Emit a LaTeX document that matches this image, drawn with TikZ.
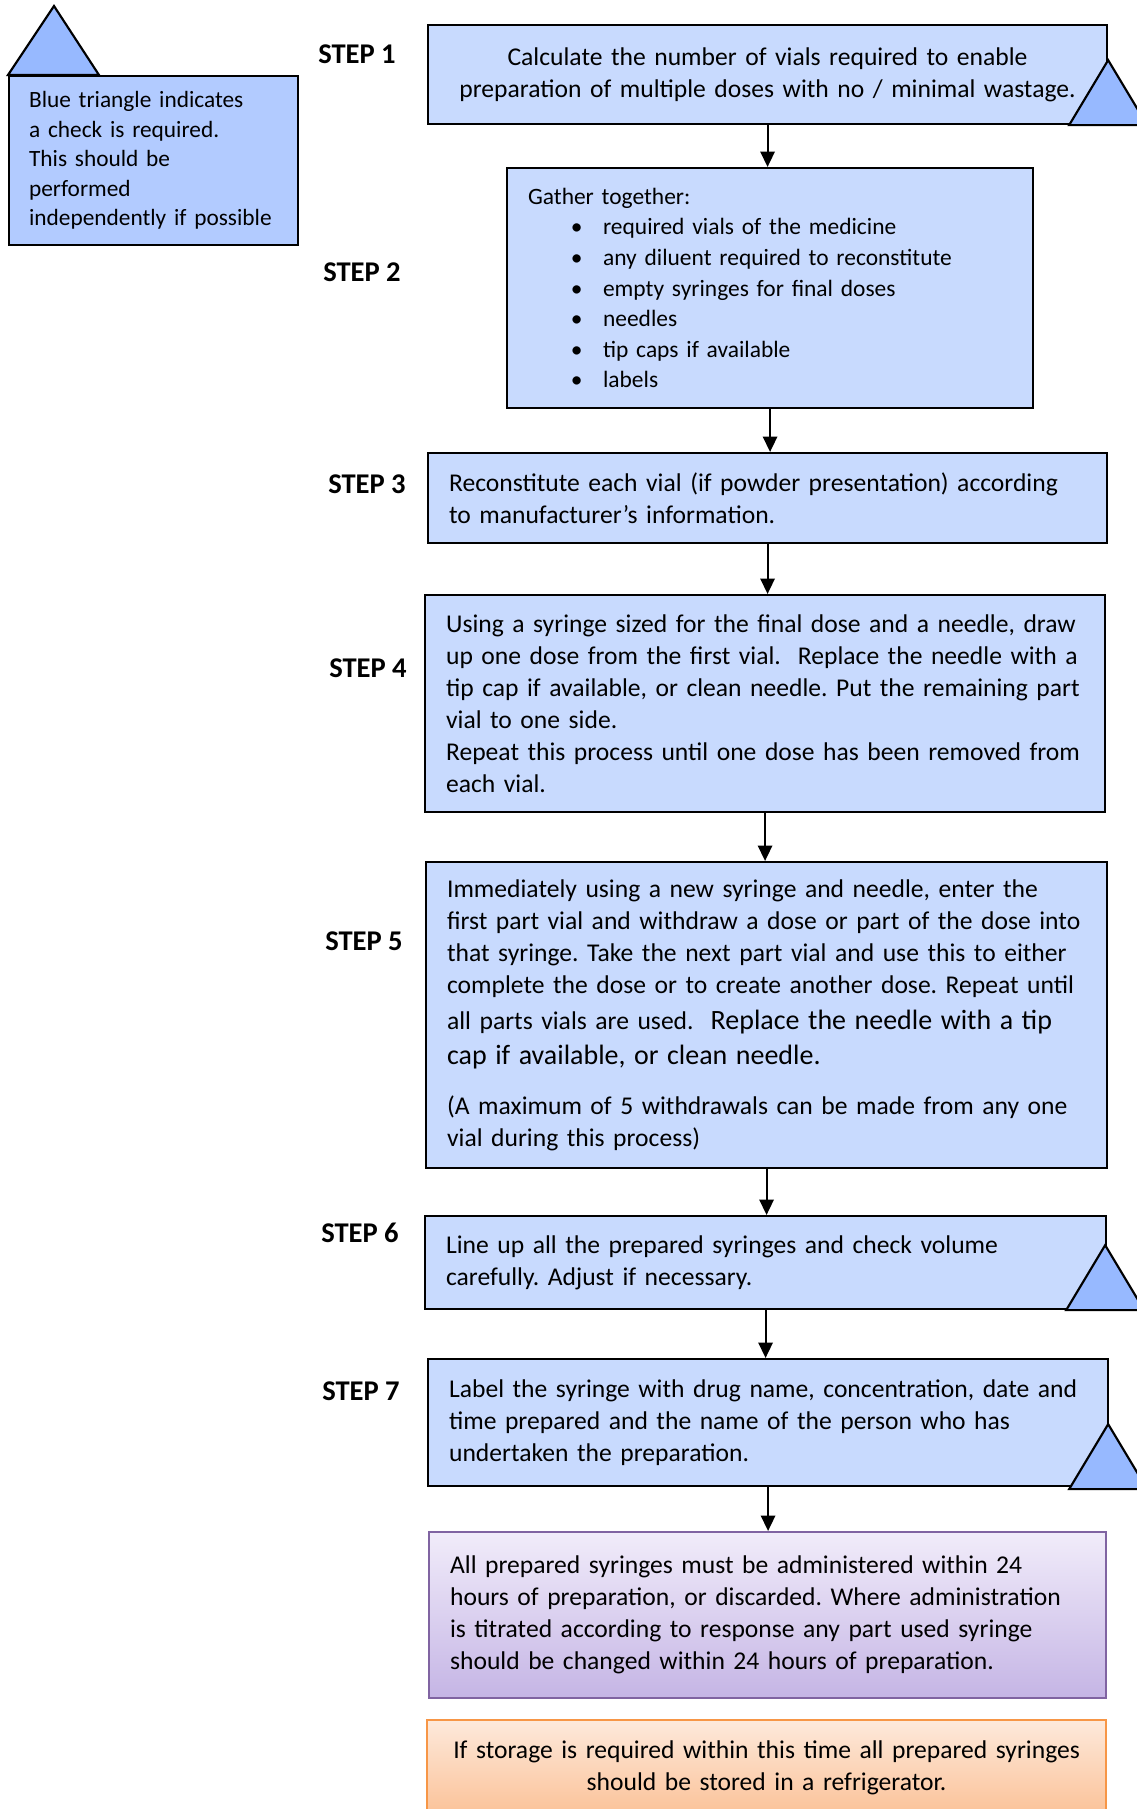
\documentclass[tikz,border=0pt]{standalone}
\usepackage{fontspec}
\setmainfont{Carlito}
\usetikzlibrary{arrows.meta, positioning}
\definecolor{BoxBlue}{RGB}{200,218,254}
\definecolor{TriBlue}{RGB}{151,185,255}
\definecolor{KeyBlue}{RGB}{178,203,255}
\definecolor{VioletLine}{RGB}{128,100,162}
\definecolor{VioletTop}{RGB}{241,236,250}
\definecolor{VioletBottom}{RGB}{197,181,229}
\definecolor{OrangeLine}{RGB}{247,150,70}
\definecolor{OrangeTop}{RGB}{253,233,219}
\definecolor{OrangeBottom}{RGB}{251,194,152}
\newcommand{\bodysize}{\fontsize{10.75}{13.5}\selectfont}
\newcommand{\keysize}{\fontsize{9.8}{12.4}\selectfont}
\newcommand{\listsize}{\fontsize{9.85}{12.85}\selectfont}
\newcommand{\bigsize}{\fontsize{11.75}{15}\selectfont}
\newcommand{\gitem}{\\\hspace*{18pt}\makebox[13.5pt][l]{\textbullet}}

\begin{document}
\begin{tikzpicture}[x=0.42pt, y=-0.42pt,
  stepbox/.style 2 args={draw=black, line width=0.9pt, fill=BoxBlue,
                anchor=north west, minimum width=#1*0.42pt,
                minimum height=#2*0.42pt, text width=(#1-42)*0.42pt,
                inner xsep=21*0.42pt, inner ysep=0pt, align=left,
                font=\bodysize,
                execute at begin node={\frenchspacing\rightskip=-8pt plus 1fil}},
  midbox/.style={align=center,
                execute at begin node={\frenchspacing
                  \leftskip=-6pt plus 1fil\rightskip=-6pt plus 1fil}},
  steplabel/.style={font=\fontsize{12}{14}\selectfont\bfseries},
  checktri/.style={draw=black, line width=0.9pt, fill=TriBlue},
  flow/.style={-{Triangle[length=6.5pt, width=6pt]}, line width=0.9pt}
]
\clip (0,0) rectangle (1137,1809);

%% Key
\node[stepbox={289}{169}, fill=KeyBlue, font=\keysize,
      inner xsep=20*0.42pt, text width=249*0.42pt] (key) at (8,75) {
  Blue triangle indicates\\a check is required.\\This should be\\
  performed\\independently if possible};
\draw[checktri] (key.north west) -- ++(46,-69) -- ++(45,69) -- cycle;

%% Step 1
\node[steplabel] (s1) at (357,54) {STEP 1};
\node[stepbox={679}{99}, midbox] (b1) at (427,24) {
  Calculate the number of vials required to enable\\
  preparation of multiple doses with no / minimal wastage.};
\draw[checktri] (b1.south east) ++(-39,0) -- ++(39,-65) -- ++(39,65) -- cycle;

%% Step 2
\node[steplabel] (s2) at (362,272) {STEP 2};
\node[stepbox={526}{240}, font=\listsize] (b2) at (506,167) {
  Gather together:\gitem required vials of the medicine
  \gitem any diluent required to reconstitute
  \gitem empty syringes for final doses\gitem needles
  \gitem tip caps if available\gitem labels};

%% Step 3
\node[steplabel] (s3) at (367,484) {STEP 3};
\node[stepbox={679}{90}] (b3) at (427,452) {
  Reconstitute each vial (if powder presentation) according\\
  to manufacturer’s information.};

%% Step 4
\node[steplabel] (s4) at (368,668) {STEP 4};
\node[stepbox={680}{217}] (b4) at (424,594) {
  Using a syringe sized for the final dose and a needle, draw\\
  up one dose from the first vial.\ \ Replace the needle with a\\
  tip cap if available, or clean needle. Put the remaining part\\
  vial to one side.\\
  Repeat this process until one dose has been removed from\\
  each vial.};

%% Step 5
\node[steplabel] (s5) at (364,941) {STEP 5};
\node[stepbox={681}{306}] (b5) at (425,861) {
  Immediately using a new syringe and needle, enter the\\
  first part vial and withdraw a dose or part of the dose into\\
  that syringe. Take the next part vial and use this to either\\
  complete the dose or to create another dose. Repeat until\\[1.4pt]
  all parts vials are used.\ \ {\bigsize Replace the needle with a tip}\\[1.4pt]
  {\bigsize cap if available, or clean needle.}\\[7.3pt]
  (A maximum of 5 withdrawals can be made from any one\\
  vial during this process)};

%% Step 6
\node[steplabel] (s6) at (360,1233) {STEP 6};
\node[stepbox={681}{93}] (b6) at (424,1215) {
  Line up all the prepared syringes and check volume\\
  carefully. Adjust if necessary.};
\draw[checktri] (b6.south east) ++(-41,0) -- ++(39,-65) -- ++(39,65) -- cycle;

%% Step 7
\node[steplabel] (s7) at (361,1391) {STEP 7};
\node[stepbox={680}{127}] (b7) at (427,1358) {
  Label the syringe with drug name, concentration, date and\\
  time prepared and the name of the person who has\\
  undertaken the preparation.};
\draw[checktri] (b7.south east) ++(-40,2) -- ++(39,-65) -- ++(39,65) -- cycle;

%% Notes
\node[stepbox={677}{166}, draw=VioletLine, top color=VioletTop,
      bottom color=VioletBottom] (note) at (428,1531) {
  All prepared syringes must be administered within 24\\
  hours of preparation, or discarded. Where administration\\
  is titrated according to response any part used syringe\\
  should be changed within 24 hours of preparation.};
\node[stepbox={679}{95}, midbox, draw=OrangeLine, top color=OrangeTop,
      bottom color=OrangeBottom] (store) at (426,1719) {
  If storage is required within this time all prepared syringes\\
  should be stored in a refrigerator.};

\draw[flow] (b1.south) -- (b1.south |- b2.north);
\draw[flow] (b2.south) -- (b2.south |- b3.north);
\draw[flow] (b3.south) -- (b3.south |- b4.north);
\draw[flow] (b4.south) -- (b4.south |- b5.north);
\draw[flow] (b5.south) -- (b5.south |- b6.north);
\draw[flow] (b6.south) -- (b6.south |- b7.north);
\draw[flow] (b7.south) -- (b7.south |- note.north);

\end{tikzpicture}
\end{document}
